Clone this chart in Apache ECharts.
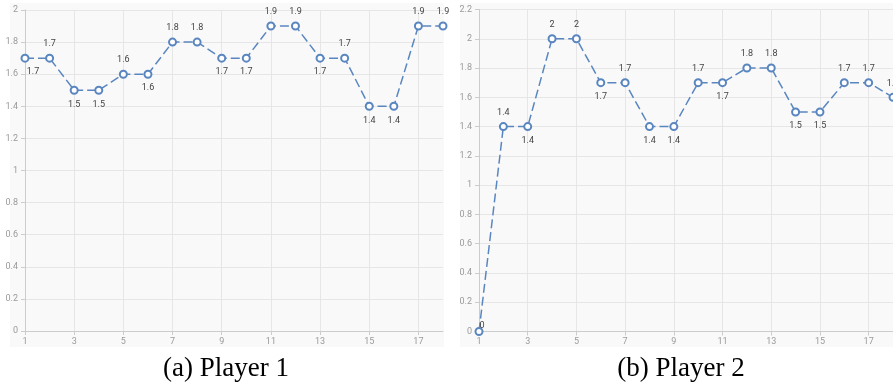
<!DOCTYPE html>
<html>
<head>
<meta charset="utf-8">
<script src="https://cdn.jsdelivr.net/npm/echarts@6/dist/echarts.min.js"></script>
<style>
    body { margin: 0; background: #fff; }
    .panel { position: absolute; background: #f9f9f9; }
    #chart { position: absolute; left: 0; top: 0; width: 893px; height: 389px; }
</style>
</head>
<body>
<div class="panel" style="left:10px;top:3px;width:434px;height:344px;"></div>
<div class="panel" style="left:460px;top:3px;width:433px;height:344px;"></div>
<div id="chart"></div>
<script>
// rounds 1..18
var rounds = ['1', '2', '3', '4', '5', '6', '7', '8', '9', '10', '11', '12', '13', '14', '15', '16', '17', '18'];

var player1 = [1.7, 1.7, 1.5, 1.5, 1.6, 1.6, 1.8, 1.8, 1.7, 1.7, 1.9, 1.9, 1.7, 1.7, 1.4, 1.4, 1.9, 1.9];
var player2 = [0, 1.4, 1.4, 2, 2, 1.7, 1.7, 1.4, 1.4, 1.7, 1.7, 1.8, 1.8, 1.5, 1.5, 1.7, 1.7, 1.6];

// where each value label sits
var p1LabelPos = ['bottom', 'top', 'bottom', 'bottom', 'top', 'bottom', 'top', 'top', 'bottom', 'bottom',
    'top', 'top', 'bottom', 'top', 'bottom', 'bottom', 'top', 'top'];
var p2LabelPos = ['top', 'top', 'bottom', 'top', 'top', 'bottom', 'top', 'bottom', 'bottom', 'top',
    'bottom', 'top', 'top', 'bottom', 'bottom', 'top', 'top', 'top'];

var captions = ['(a) Player 1', '(b) Player 2'];

var lineColor = '#5a86c0';

function buildData(values, positions, firstOffset) {
    return values.map(function(v, i) {
        var lbl = { position: positions[i] };
        if (i === 0) lbl.offset = firstOffset;
        return { value: v, label: lbl };
    });
}

function xAxisFor(gridIndex) {
    return {
        type: 'category',
        gridIndex: gridIndex,
        data: rounds,
        boundaryGap: false,
        axisLine: { lineStyle: { color: '#cccccc' } },
        axisTick: { interval: 1, length: 4, lineStyle: { color: '#cccccc' } },
        axisLabel: { interval: 1, fontSize: 9, color: '#9a9a9a', margin: 6 },
        splitLine: { show: true, interval: 1, lineStyle: { color: '#e6e6e6' } }
    };
}

function yAxisFor(gridIndex, max) {
    return {
        type: 'value',
        gridIndex: gridIndex,
        min: 0,
        max: max,
        interval: 0.2,
        axisLine: { show: true, lineStyle: { color: '#cccccc' } },
        axisTick: { show: true, length: 4, lineStyle: { color: '#cccccc' } },
        axisLabel: {
            fontSize: 9,
            color: '#9a9a9a',
            margin: 7,
            formatter: function(v) { return String(Math.round(v * 10) / 10); }
        },
        splitLine: { lineStyle: { color: '#e6e6e6' } }
    };
}

function seriesFor(idx, values, positions, firstOffset) {
    return {
        type: 'line',
        xAxisIndex: idx,
        yAxisIndex: idx,
        data: buildData(values, positions, firstOffset),
        symbol: 'emptyCircle',
        symbolSize: 7,
        lineStyle: { color: lineColor, width: 1.5, type: [9, 4] },
        itemStyle: { color: lineColor, borderWidth: 1.5 },
        label: {
            show: true,
            fontSize: 9,
            color: '#444',
            distance: 5,
            formatter: function(p) { return String(p.value); }
        },
        animation: false
    };
}

var chart = echarts.init(document.getElementById('chart'));

var option = {
    textStyle: { fontFamily: 'Roboto, sans-serif' },
    grid: [
        { left: 25, top: 10, width: 418, height: 321 },
        { left: 479, top: 9.5, width: 420, height: 322 }
    ],
    xAxis: [xAxisFor(0), xAxisFor(1)],
    yAxis: [yAxisFor(0, 2), yAxisFor(1, 2.2)],
    series: [
        seriesFor(0, player1, p1LabelPos, [8, 0]),
        seriesFor(1, player2, p2LabelPos, [3, 8])
    ],
    graphic: captions.map(function(txt, i) {
        return {
            type: 'text',
            x: i === 0 ? 226 : 681,
            y: 369,
            style: {
                text: txt,
                fontFamily: 'Liberation Serif, serif',
                fontSize: 27,
                fill: '#000',
                textAlign: 'center',
                textVerticalAlign: 'middle'
            }
        };
    })
};

chart.setOption(option);
</script>
</body>
</html>
